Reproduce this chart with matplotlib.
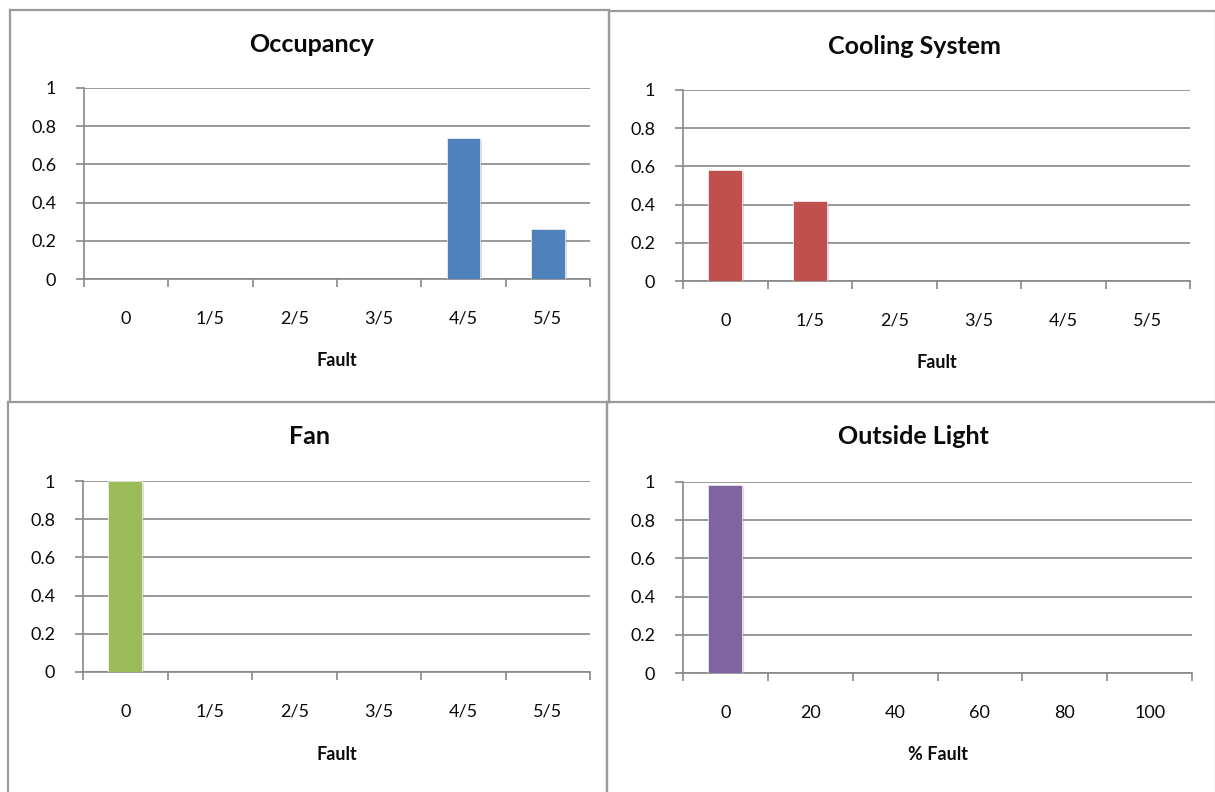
import matplotlib
matplotlib.use("Agg")
import matplotlib.pyplot as plt
from matplotlib.lines import Line2D
from matplotlib import patheffects as pe
import numpy as np

plt.rcParams['font.family'] = ['Lato', 'DejaVu Sans']

# --- data -------------------------------------------------------------
fault_labels = ["0", "1/5", "2/5", "3/5", "4/5", "5/5"]
percent_labels = ["0", "20", "40", "60", "80", "100"]

occupancy = [0, 0, 0, 0, 0.74, 0.26]
cooling_system = [0.58, 0.42, 0, 0, 0, 0]
fan = [1.0, 0, 0, 0, 0, 0]
outside_light = [0.985, 0, 0, 0, 0, 0]

titles = ["Occupancy", "Cooling System", "Fan", "Outside Light"]
xlabels = ["Fault", "Fault", "Fault", "% Fault"]
colors = ["#4F81BD", "#C0504D", "#9BBB59", "#8064A2"]
y_ticks = [0, 0.2, 0.4, 0.6, 0.8, 1]
y_tick_labels = ["0", "0.2", "0.4", "0.6", "0.8", "1"]

# --- layout (pixels) -------------------------------------------------
W, H = 1215, 792
fig = plt.figure(figsize=(W / 100, H / 100), dpi=100)
fig.patch.set_facecolor("white")

def fx(x):
    return x / W

def fy(y):
    return 1 - y / H

# plot areas: left, right, top(y=1), bottom(y=0) in pixels
areas = [
    (84, 590, 88, 279),
    (683, 1190, 90, 281),
    (83, 590, 481, 672),
    (683, 1192, 482, 673),
]
# panel frames: left, right, top, bottom
frames = [
    (10, 609, 10, 402),
    (609, 1216, 11, 402),
    (8, 607, 402, 793),
    (607, 1216, 402, 793),
]
title_y = [44, 46, 437, 437]

series = [occupancy, cooling_system, fan, outside_light]
cat_labels = [fault_labels, fault_labels, fault_labels, percent_labels]

grid_col = "#878787"
frame_col = "#9a9a9a"
text_col = "#0a0a0a"

for (l, r, t, b), (fl, fr, ft, fb), ty, vals, title, xl, col, cl in zip(
        areas, frames, title_y, series, titles, xlabels, colors, cat_labels):
    # panel frame
    for xs, ys in [((fl, fr), (ft, ft)), ((fl, fl), (ft, fb)), ((fr, fr), (ft, fb))]:
        fig.add_artist(Line2D([fx(v) for v in xs], [fy(v) for v in ys],
                              color=frame_col, lw=1.6, transform=fig.transFigure))

    ax = fig.add_axes([fx(l), fy(b), fx(r) - fx(l), fy(t) - fy(b)])
    x = np.arange(len(vals))
    bars = ax.bar(x, vals, width=0.4, color=col, edgecolor="#f4f4f4", linewidth=0.5,
                  zorder=3)
    for p in bars:
        p.set_path_effects([pe.SimplePatchShadow(offset=(1.5, -1.5), shadow_rgbFace="#999999",
                                                 alpha=0.35), pe.Normal()])

    ax.set_xlim(-0.5, len(vals) - 0.5)
    ax.set_ylim(0, 1)

    for s in ["top", "right"]:
        ax.spines[s].set_visible(False)
    ax.spines["left"].set_color(grid_col)
    ax.spines["bottom"].set_color(grid_col)
    ax.spines["left"].set_linewidth(1.2)
    ax.spines["bottom"].set_linewidth(1.2)

    ax.set_yticks(y_ticks)
    ax.set_yticklabels(y_tick_labels)
    ax.yaxis.grid(True, color=grid_col, linewidth=1.2, zorder=0)
    ax.set_axisbelow(True)
    ax.tick_params(axis="y", length=6, width=1.2, color=grid_col, pad=14,
                   labelsize=13, labelcolor=text_col)

    ax.set_xticks(x)
    ax.set_xticklabels(cl)
    ax.set_xticks(np.arange(len(vals) + 1) - 0.5, minor=True)
    ax.tick_params(axis="x", which="major", length=0, pad=23, labelsize=13,
                   labelcolor=text_col)
    ax.tick_params(axis="x", which="minor", length=6, width=1.2, color=grid_col)

    ax.set_xlabel(xl, fontsize=13, fontweight="bold", color=text_col)
    ax.xaxis.set_label_coords(0.5, -(361 - 279) / 191)
    ax.xaxis.label.set_va("center")

    fig.text(fx((fl + fr) / 2 + 2), fy(ty), title, ha="center", va="center",
             fontsize=18, fontweight="bold", color=text_col)

fig.savefig("out.png", dpi=100, facecolor="white")
